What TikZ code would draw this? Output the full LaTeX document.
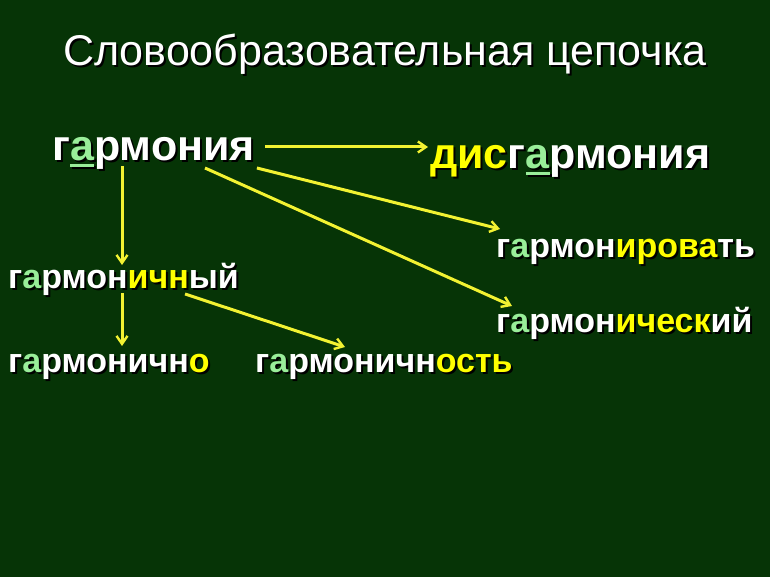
\documentclass[tikz,border=0pt]{standalone}
\usepackage{fontspec}
\setmainfont{Liberation Sans}
\usetikzlibrary{arrows.meta}
\definecolor{board}{HTML}{063406}
\definecolor{rootgreen}{HTML}{99EE99}
\definecolor{affyellow}{HTML}{FFFF00}
\definecolor{arryellow}{HTML}{F2F232}
\newcommand{\gr}[1]{\textcolor{rootgreen}{#1}}
\newcommand{\yl}[1]{\textcolor{affyellow}{#1}}
\newcommand{\udl}[1]{\sbox0{#1}\rlap{\rule[-6pt]{\wd0}{2.5pt}}\usebox0}
\newcommand{\shadowed}[1]{\makebox[0pt][l]{\hspace{2pt}\raisebox{-2pt}{\def\gr##1{##1}\def\yl##1{##1}\color{black}#1}}#1}
\tikzset{
  word/.style={inner sep=0pt, anchor=base west, text=white,
    font=\bfseries\fontsize{34}{38}\selectfont},
  bigword/.style={word, font=\bfseries\fontsize{43}{46}\selectfont},
  heading/.style={inner sep=0pt, anchor=base, text=white,
    font=\fontsize{43}{46}\selectfont},
  arr/.style={draw=arryellow, line width=3pt,
    -{Straight Barb[length=8pt,width=11pt,line width=2.4pt]}}
}

\begin{document}
\begin{tikzpicture}[x=1pt,y=-1pt]

\fill[board] (0,0) rectangle (770,577);
\useasboundingbox (0,0) rectangle (770,577);

\node[heading] (title) at (385,66) {\shadowed{Словообразовательная цепочка}};

\node[bigword] (gar) at (52,161) {\shadowed{г\gr{\udl{а}}рмония}};
\node[bigword] (dis) at (430,169) {\shadowed{\yl{дис}г\gr{\udl{а}}рмония}};
\node[word] (girov) at (496,257) {\shadowed{г\gr{а}рмон\yl{ирова}ть}};
\node[word] (gny) at (8,288) {\shadowed{г\gr{а}рмон\yl{ичн}ый}};
\node[word] (gich) at (496,332) {\shadowed{г\gr{а}рмон\yl{ическ}ий}};
\node[word] (gno) at (8,372) {\shadowed{г\gr{а}рмоничн\yl{о}}};
\node[word] (gnost) at (255,372) {\shadowed{г\gr{а}рмоничн\yl{ость}}};

% arrows
\draw[arr] ([xshift=10pt,yshift=14pt]gar.base east) -- ([xshift=-2pt,yshift=22pt]dis.base west);
\draw[arr] ([xshift=2pt,yshift=-7pt]gar.base east) -- ([xshift=4pt,yshift=28pt]girov.base west);
\draw[arr] ([xshift=153pt,yshift=-7pt]gar.base west) -- ([xshift=16pt,yshift=26pt]gich.base west);
\draw[arr] ([xshift=70pt,yshift=-5pt]gar.base west) -- ([xshift=114pt,yshift=23pt]gny.base west);
\draw[arr] ([xshift=114pt,yshift=-5pt]gny.base west) -- ([xshift=114pt,yshift=26pt]gno.base west);
\draw[arr] ([xshift=177pt,yshift=-6pt]gny.base west) -- ([xshift=90pt,yshift=25pt]gnost.base west);

\end{tikzpicture}
\end{document}
